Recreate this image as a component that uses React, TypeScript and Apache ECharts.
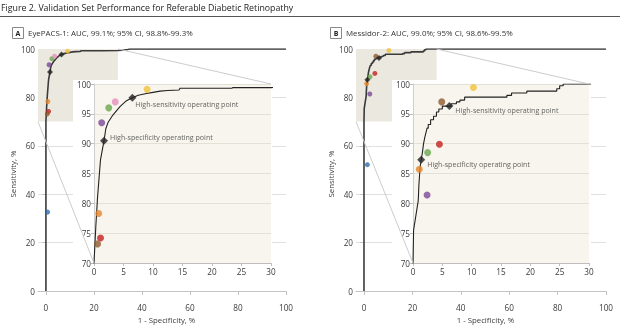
import React, { useEffect, useRef } from "react";
import * as echarts from "echarts";

const FONT = '"Open Sans", "DejaVu Sans", sans-serif';

const figureTitle = "Figure 2. Validation Set Performance for Referable Diabetic Retinopathy";
const panelLetters = ["A", "B"];
const panelTitles = [
  "EyePACS-1: AUC, 99.1%; 95% CI, 98.8%-99.3%",
  "Messidor-2: AUC, 99.0%; 95% CI, 98.6%-99.5%",
];
const xAxisTitle = "1 - Specificity, %";
const yAxisTitle = "Sensitivity, %";
const mainTicks = [0, 20, 40, 60, 80, 100];
const zoomX = [0, 30];
const zoomY = [70, 100];
const operatingLabels = ["High-specificity operating point", "High-sensitivity operating point"];

// ROC curves: [1 - specificity, sensitivity]
const eyepacsRoc = [
  [0, 0], [0, 70], [0.3, 76], [0.6, 81], [1.1, 87.3], [1.7, 90.5], [2.0, 92.5], [2.4, 93.6],
  [3.2, 94.8], [4.4, 96.2], [5.5, 97.2], [6.5, 97.7], [7.5, 98.1], [8.9, 98.4], [10, 98.6],
  [11.2, 98.8], [12.5, 98.9], [14.4, 99.0], [14.6, 99.3], [20, 99.3], [23.4, 99.3], [23.5, 99.4],
  [30, 99.4], [32, 99.5], [34, 99.8], [35, 100], [100, 100],
];
const messidorRoc = [
  [0, 0], [0, 70], [0.1, 75.5], [0.5, 78], [0.9, 80.5], [1.0, 83], [1.2, 86], [1.4, 87.3],
  [1.6, 88.5], [1.8, 90], [2.0, 91], [2.4, 92.6], [2.6, 92.6], [2.6, 93.2], [3.0, 93.2],
  [3.0, 94], [3.5, 94], [3.5, 94.6], [4.0, 94.6], [4.0, 95.3], [4.4, 95.3], [4.4, 95.8],
  [5, 95.8], [5, 96.3], [6.5, 96.3], [6.5, 96.7], [7.4, 96.7], [7.4, 97.0], [8, 97.0],
  [8, 97.3], [8.8, 97.3], [8.8, 97.8], [16, 97.8], [16, 98.1], [16.8, 98.1], [16.8, 98.5],
  [19.4, 98.5], [19.4, 98.8], [24.5, 98.8], [24.5, 99.2], [25, 99.2], [25, 99.7], [25.6, 99.7],
  [25.6, 100], [100, 100],
];

// Operating points: [high-specificity, high-sensitivity]
const eyepacsOperating = [[1.7, 90.5], [6.5, 97.7]];
const messidorOperating = [[1.4, 87.3], [6.2, 96.3]];

// Ophthalmologist graders
const graderNames = ["Grader 1", "Grader 2", "Grader 3", "Grader 4", "Grader 5", "Grader 6", "Grader 7", "Grader 8"];
const graderColors = ["#7b4797", "#6aa84f", "#e48fbd", "#f0c23a", "#e6862a", "#c4201f", "#8e5a2c", "#2f6db3"];
const eyepacsGraders = [[1.3, 93.5], [2.5, 96.0], [3.6, 97.0], [9.0, 99.1], [0.8, 78.3], [1.1, 74.2], [0.6, 73.2], [0.7, 32.6]];
const messidorGraders = [[2.4, 81.4], [2.5, 88.5], null, [10.3, 99.4], [1.07, 85.7], [4.5, 89.9], [4.9, 97.0], [1.4, 52.2]];

const labelOffsets = [
  [[-3, -4], [-6, 6]],
  [[-3, 4.5], [-3, 4]],
];

const AXIS_MIN = -3.3;
const TXT = "#3a3a3a";
const TICK_FS = 8.2;
const NAME_FS = 7.8;

function graderData(pts: (number[] | null)[]) {
  const out: any[] = [];
  pts.forEach((p, i) => {
    if (!p) return;
    out.push({ value: p, name: graderNames[i], itemStyle: { color: graderColors[i] } });
  });
  return out;
}

export default function App() {
  const ref = useRef<HTMLDivElement>(null);
  useEffect(() => {
    if (!ref.current) return;
    const chart = echarts.init(ref.current, null, { renderer: "svg" });

    const grids: any[] = [
      { left: 38, top: 49, width: 248, height: 250 },
      { left: 356, top: 49, width: 250, height: 250 },
      { left: 94, top: 84, width: 177, height: 179, show: true, backgroundColor: "#f7f5ed", borderWidth: 0, z: 4 },
      { left: 413, top: 84, width: 176, height: 179, show: true, backgroundColor: "#f7f5ed", borderWidth: 0, z: 4 },
    ];

    const mainX = (gi: number) => ({
      type: "value", gridIndex: gi, min: AXIS_MIN, max: 100,
      axisLine: { show: true, lineStyle: { color: "#c4c4c4", width: 1 } },
      axisTick: { show: true, customValues: mainTicks, length: 4, lineStyle: { color: "#c4c4c4" } },
      axisLabel: { customValues: mainTicks, fontSize: TICK_FS, color: TXT, fontFamily: FONT, margin: 4 },
      splitLine: { show: false },
      name: xAxisTitle, nameLocation: "middle", nameGap: 16,
      nameTextStyle: { fontSize: NAME_FS, color: TXT, fontFamily: FONT, padding: [0, 0, 0, 9] },
    });
    const mainY = (gi: number) => ({
      type: "value", gridIndex: gi, min: AXIS_MIN, max: 100,
      axisLine: { show: false },
      axisTick: { show: true, customValues: mainTicks, length: 4, lineStyle: { color: "#c4c4c4" } },
      axisLabel: { customValues: mainTicks, fontSize: TICK_FS, color: TXT, fontFamily: FONT, margin: 3 },
      splitLine: { show: true, lineStyle: { color: "#e0e0e0", width: 1 } },
      name: yAxisTitle, nameLocation: "middle", nameGap: 12,
      nameTextStyle: { fontSize: NAME_FS, color: TXT, fontFamily: FONT },
    });
    const insetX = (gi: number) => ({
      type: "value", gridIndex: gi, min: zoomX[0], max: zoomX[1], interval: 5, z: 4,
      axisLine: { show: true, lineStyle: { color: "#bdbdbd" } },
      axisTick: { show: true, length: 3, lineStyle: { color: "#bdbdbd" } },
      axisLabel: { fontSize: TICK_FS, color: TXT, fontFamily: FONT, margin: 4 },
      splitLine: { show: false },
    });
    const insetY = (gi: number) => ({
      type: "value", gridIndex: gi, min: zoomY[0], max: zoomY[1], interval: 5, z: 4,
      axisLine: { show: true, lineStyle: { color: "#cfcfcf" } },
      axisTick: { show: true, length: 3, lineStyle: { color: "#bdbdbd" } },
      axisLabel: { fontSize: TICK_FS, color: TXT, fontFamily: FONT, margin: 3 },
      splitLine: { show: true, lineStyle: { color: "#e3e0d5", width: 1 } },
    });

    const panels = [
      { roc: eyepacsRoc, ops: eyepacsOperating, graders: eyepacsGraders },
      { roc: messidorRoc, ops: messidorOperating, graders: messidorGraders },
    ];

    const series: any[] = [];
    panels.forEach((p, pi) => {
      const mainIdx = pi;
      const insetIdx = pi + 2;
      series.push({
        type: "line", xAxisIndex: mainIdx, yAxisIndex: mainIdx, data: p.roc, showSymbol: false,
        lineStyle: { color: "#3a3a3a", width: 1.6 }, z: 2, silent: true,
        markArea: {
          silent: true, itemStyle: { color: "#ebe8df" },
          data: [[{ coord: [AXIS_MIN, zoomY[0]] }, { coord: [zoomX[1], zoomY[1]] }]],
        },
      });
      series.push({
        type: "scatter", xAxisIndex: mainIdx, yAxisIndex: mainIdx, symbolSize: 5, z: 2,
        data: graderData(p.graders),
      });
      series.push({
        type: "scatter", xAxisIndex: mainIdx, yAxisIndex: mainIdx, symbol: "diamond", symbolSize: 6, z: 3,
        itemStyle: { color: "#222" }, data: p.ops,
      });
      series.push({
        type: "line", xAxisIndex: insetIdx, yAxisIndex: insetIdx, data: p.roc, showSymbol: false,
        lineStyle: { color: "#222", width: 1.1 }, z: 5, clip: true, silent: true,
      });
      series.push({
        type: "scatter", xAxisIndex: insetIdx, yAxisIndex: insetIdx, symbolSize: 7, z: 5, clip: true,
        data: graderData(p.graders),
      });
      series.push({
        type: "scatter", xAxisIndex: insetIdx, yAxisIndex: insetIdx, symbol: "diamond", symbolSize: 8, z: 6,
        itemStyle: { color: "#222" },
        data: p.ops.map((v, i) => ({
          value: v, name: operatingLabels[i],
          label: {
            show: true, position: "right", formatter: operatingLabels[i], offset: labelOffsets[pi][i],
            fontSize: 7.1, color: TXT, fontFamily: FONT,
          },
        })),
      });
    });

    const baseGraphic: any[] = [
      { type: "text", z: 10, style: { text: figureTitle, x: 1, y: 8, fill: "#222", fontSize: 8.8, fontFamily: FONT, align: "left", verticalAlign: "middle" } },
      { type: "line", z: 10, shape: { x1: 0, y1: 16.5, x2: 620, y2: 16.5 }, style: { stroke: "#555", lineWidth: 1.2 } },
      { type: "rect", z: 10, shape: { x: 12.5, y: 27.5, width: 11, height: 11 }, style: { fill: "#fff", stroke: "#888", lineWidth: 1 } },
      { type: "text", z: 11, style: { text: panelLetters[0], x: 18, y: 33.5, fill: "#222", fontSize: 7, fontWeight: "bold", fontFamily: FONT, align: "center", verticalAlign: "middle" } },
      { type: "text", z: 10, style: { text: panelTitles[0], x: 28, y: 33, fill: "#333", fontSize: 7.9, fontFamily: FONT, align: "left", verticalAlign: "middle" } },
      { type: "rect", z: 10, shape: { x: 330.5, y: 27.5, width: 11, height: 11 }, style: { fill: "#fff", stroke: "#888", lineWidth: 1 } },
      { type: "text", z: 11, style: { text: panelLetters[1], x: 336, y: 33.5, fill: "#222", fontSize: 7, fontWeight: "bold", fontFamily: FONT, align: "center", verticalAlign: "middle" } },
      { type: "text", z: 10, style: { text: panelTitles[1], x: 346, y: 33, fill: "#333", fontSize: 7.9, fontFamily: FONT, align: "left", verticalAlign: "middle" } },
      { type: "rect", z: 3, shape: { x: 73, y: 80, width: 199, height: 202 }, style: { fill: "#fff" } },
      { type: "rect", z: 3, shape: { x: 392, y: 80, width: 199, height: 202 }, style: { fill: "#fff" } },
    ];

    const option: any = {
      animation: false,
      textStyle: { fontFamily: FONT },
      grid: grids,
      xAxis: [mainX(0), mainX(1), insetX(2), insetX(3)],
      yAxis: [mainY(0), mainY(1), insetY(2), insetY(3)],
      series,
      graphic: baseGraphic,
    };
    chart.setOption(option);

    const lines: any[] = [];
    [0, 1].forEach((pi) => {
      const a1 = chart.convertToPixel({ gridIndex: pi }, [zoomX[1], zoomY[1]]) as number[];
      const b1 = chart.convertToPixel({ gridIndex: pi + 2 }, [zoomX[1], zoomY[1]]) as number[];
      const a2 = chart.convertToPixel({ gridIndex: pi }, [AXIS_MIN, zoomY[0]]) as number[];
      const b2 = chart.convertToPixel({ gridIndex: pi + 2 }, [zoomX[0], zoomY[0]]) as number[];
      lines.push({ type: "line", z: 7, silent: true, shape: { x1: a1[0], y1: a1[1], x2: b1[0], y2: b1[1] }, style: { stroke: "#cccccc", lineWidth: 1 } });
      lines.push({ type: "line", z: 7, silent: true, shape: { x1: a2[0], y1: a2[1], x2: b2[0], y2: b2[1] }, style: { stroke: "#cccccc", lineWidth: 1 } });
    });
    chart.setOption({ graphic: baseGraphic.concat(lines) });

    return () => chart.dispose();
  }, []);
  return <div ref={ref} style={{ position: "fixed", left: 0, top: 0, width: 620, height: 334 }} />;
}
